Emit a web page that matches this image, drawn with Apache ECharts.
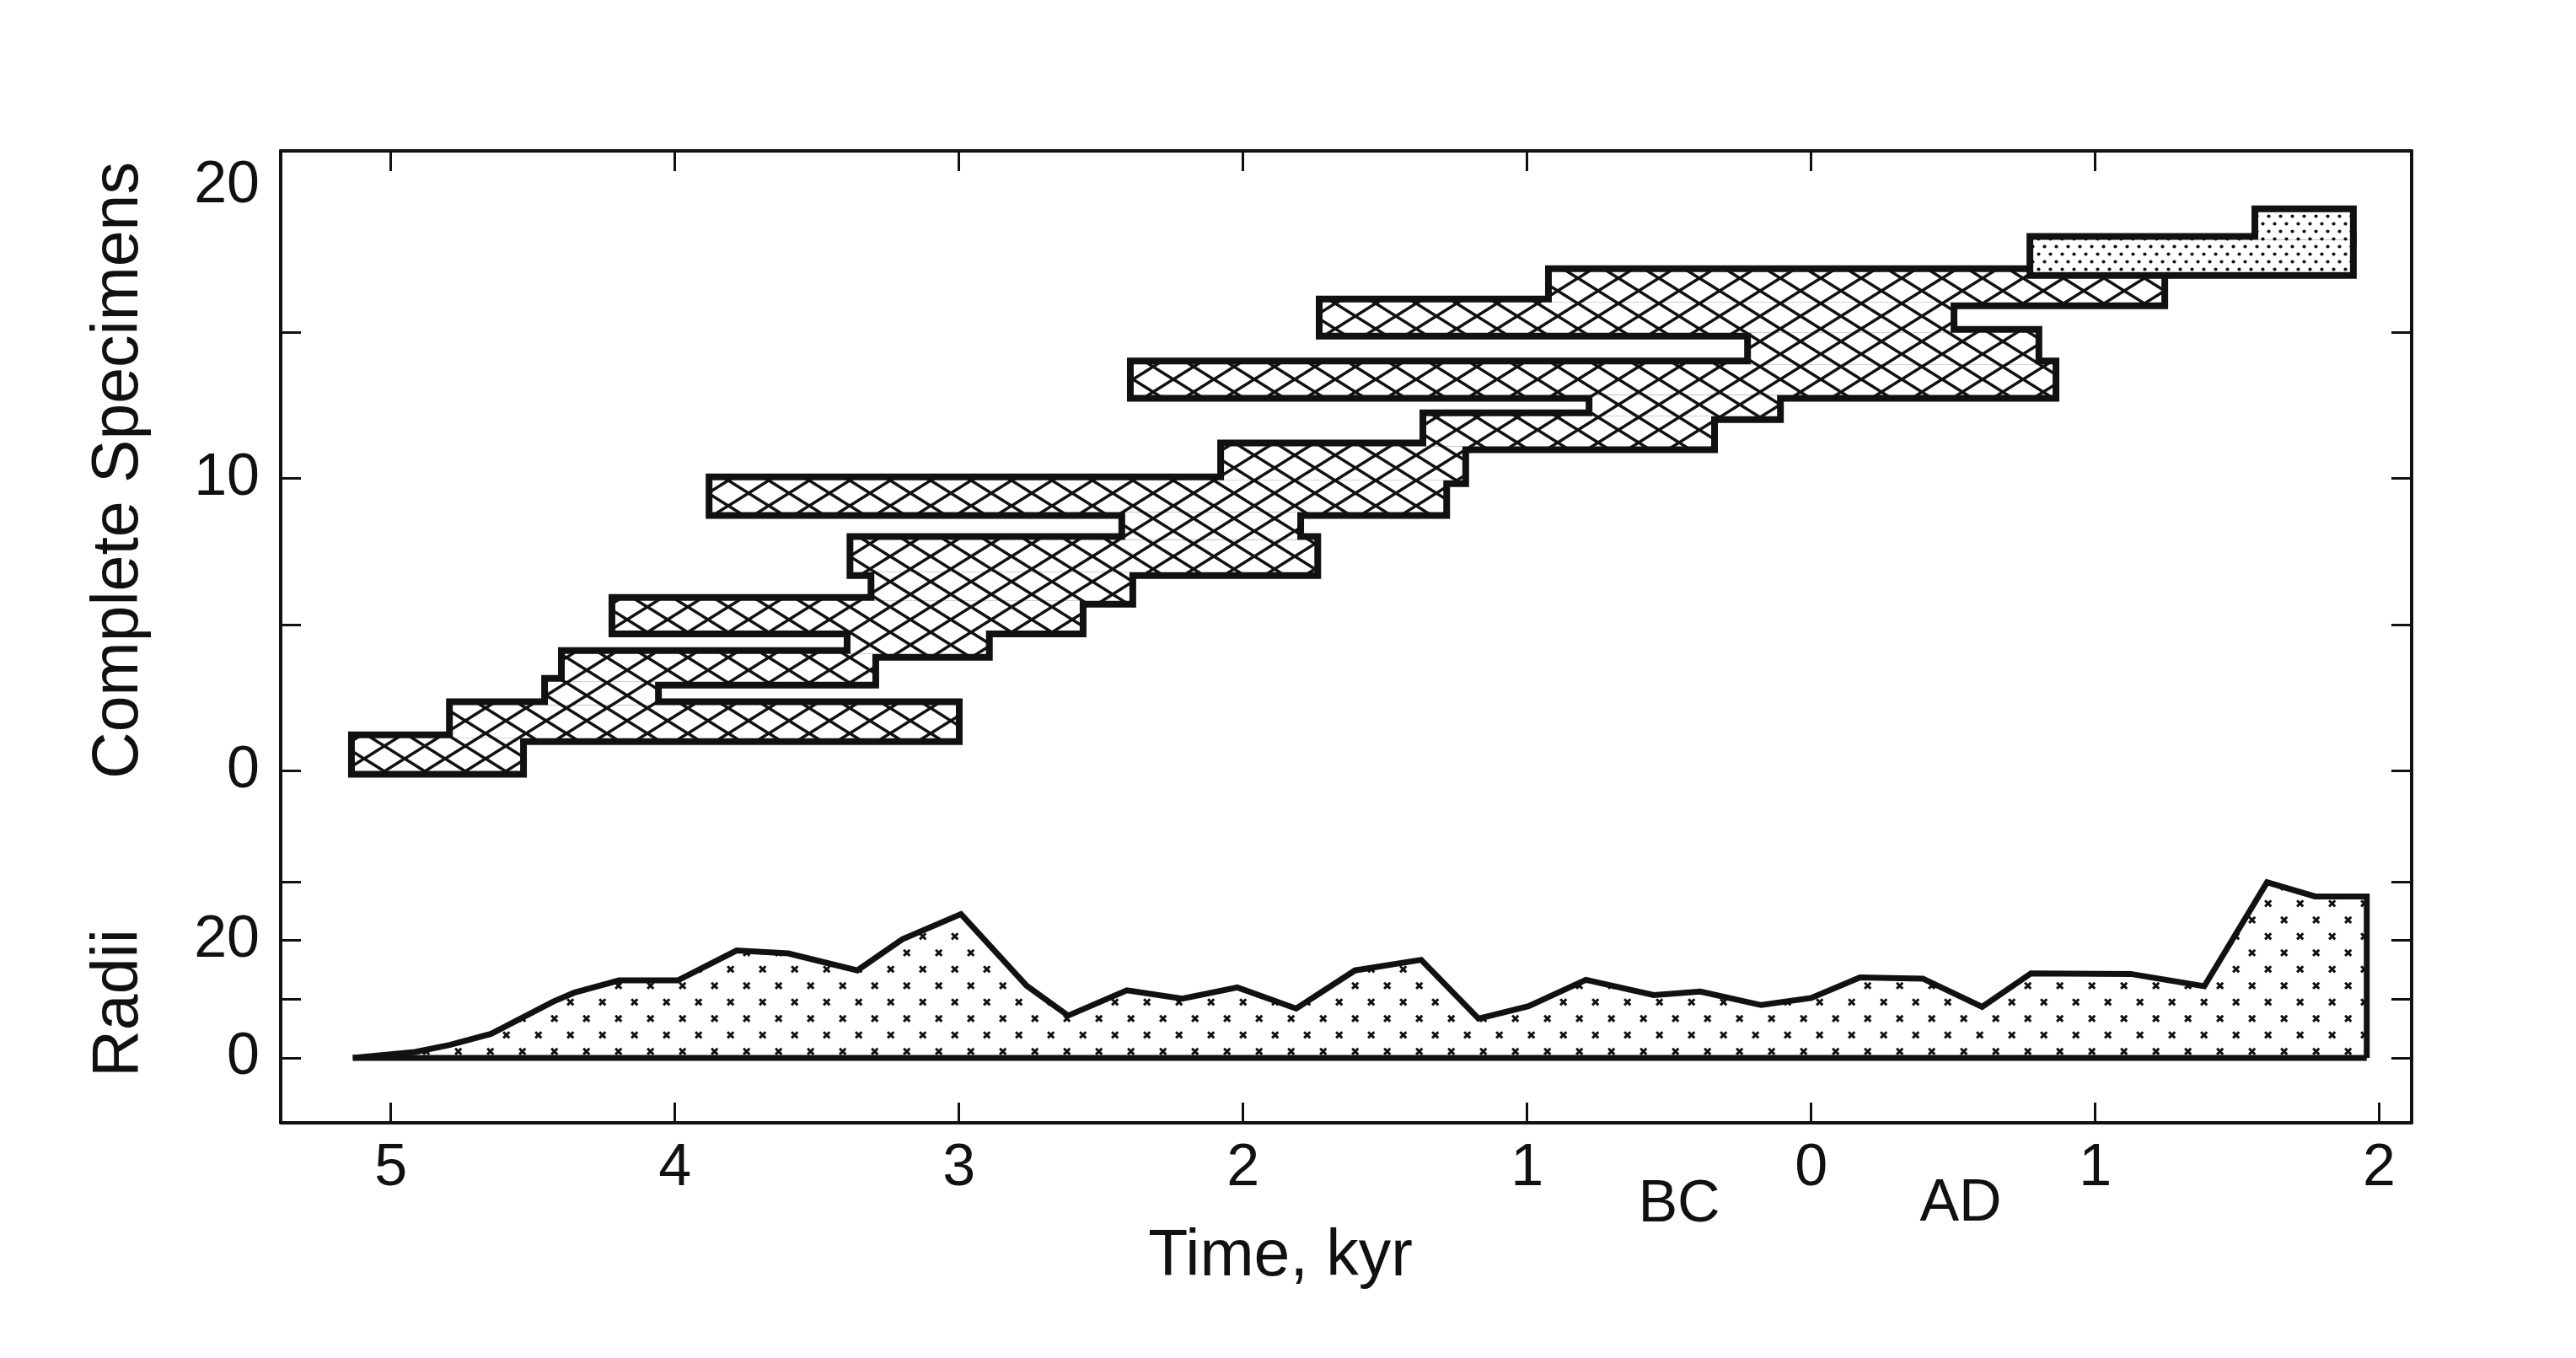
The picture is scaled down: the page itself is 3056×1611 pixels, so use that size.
<!DOCTYPE html>
<html>
<head>
<meta charset="utf-8">
<script src="https://cdn.jsdelivr.net/npm/echarts@6/dist/echarts.min.js"></script>
<style>
html,body{margin:0;padding:0;background:#ffffff;}
#chart{width:3056px;height:1611px;}
</style>
</head>
<body>
<div id="chart"></div>
<script>
// ---------------- data (years: negative = BC, positive = AD) ----------------
// specimen rows: row i spans rowEdges[i] .. rowEdges[i+1] (Complete Specimens)
const rowEdges = [0, 1.12, 2.25, 3.05, 4.0, 4.8, 5.82, 6.8, 7.9, 8.85, 9.94, 11.1, 12.13, 12.86, 13.9, 14.98, 16.02, 17.06, 18.16, 19.1];
// cross-hatched specimens (rows 0..16): dating interval start / end
const hatchStart = [-5127, -4782, -4447, -4388, -3382, -4210, -3298, -3372, -2415, -3868, -2067, -1355, -770, -2385, -212, -1720, -913];
const hatchEnd   = [-4545, -3011, -4070, -3305, -2905, -2575, -2400, -1749, -1809, -1295, -1228, -352, -120, 850, 790, 491, 1233];
// stippled specimens (rows 17, 18)
const stippleStart = [782, 1574];
const stippleEnd   = [1897, 1897];
// Radii curve
const radiiTime  = [-5134, -4915, -4793, -4647, -4428, -4355, -4197, -3990, -3783, -3601, -3358, -3200, -2993, -2762, -2616, -2409, -2214, -2020, -1813, -1606, -1373, -1171, -995, -793, -554, -390, -176, 0, 172, 393, 602, 774, 1125, 1384, 1605, 1774, 1956, 1956];
const radiiValue = [0, 1.0, 2.2, 4.1, 9.6, 11.1, 13.2, 13.2, 18.3, 17.8, 14.9, 20.2, 24.5, 12.3, 7.2, 11.5, 10.1, 12.0, 8.4, 14.9, 16.7, 6.7, 8.8, 13.3, 10.7, 11.3, 9.0, 10.2, 13.7, 13.5, 8.7, 14.4, 14.3, 12.2, 29.9, 27.5, 27.5, 0];
// ticks / labels
const xTickValues = [-5000, -4000, -3000, -2000, -1000, 0, 1000, 2000];
const xTopTickValues = [-5000, -4000, -3000, -2000, -1000, 0, 1000];
const specTicks = [0, 5, 10, 15];
const specLabels = [0, 10, 20];
const radiiTicks = [0, 10, 20, 30];
const radiiLabels = [0, 20];

// ---------------- fill patterns ----------------
const INK = '#111111';
function makeTile(w, h, draw) {
  const c = document.createElement('canvas');
  c.width = w; c.height = h;
  const ctx = c.getContext('2d');
  ctx.fillStyle = '#ffffff';
  ctx.fillRect(0, 0, w, h);
  draw(ctx, w, h);
  return { image: c, repeat: 'repeat' };
}
const hatchPattern = makeTile(48, 30, function (ctx, w, h) {
  ctx.strokeStyle = INK; ctx.lineWidth = 3.6;
  for (let dx = -1; dx <= 1; dx++) {
    for (let dy = -1; dy <= 1; dy++) {
      ctx.beginPath();
      ctx.moveTo(dx * w, dy * h); ctx.lineTo(dx * w + w, dy * h + h);
      ctx.moveTo(dx * w + w, dy * h); ctx.lineTo(dx * w, dy * h + h);
      ctx.stroke();
    }
  }
});
const stipplePattern = makeTile(14, 18, function (ctx) {
  ctx.fillStyle = INK;
  [[3.5, 4.5], [10.5, 13.5]].forEach(function (p) {
    ctx.beginPath(); ctx.arc(p[0], p[1], 2.1, 0, Math.PI * 2); ctx.fill();
  });
});
const crossPattern = makeTile(38, 39, function (ctx, w, h) {
  ctx.strokeStyle = INK; ctx.lineWidth = 3;
  const s = 3.6;
  [[11.7, 38.3], [30.7, 18.8]].forEach(function (p) {
    for (let dx = -1; dx <= 1; dx++) {
      for (let dy = -1; dy <= 1; dy++) {
        const x = p[0] + dx * w, y = p[1] + dy * h;
        ctx.beginPath();
        ctx.moveTo(x - s, y - s); ctx.lineTo(x + s, y + s);
        ctx.moveTo(x + s, y - s); ctx.lineTo(x - s, y + s);
        ctx.stroke();
      }
    }
  });
});

// ---------------- series data ----------------
const hatchData = hatchStart.map(function (s, i) { return [s, hatchEnd[i], rowEdges[i], rowEdges[i + 1]]; });
const stippleData = stippleStart.map(function (s, j) {
  const r = hatchStart.length + j;
  return [s, stippleEnd[j], rowEdges[r], rowEdges[r + 1]];
});
const radiiData = radiiTime.map(function (t, i) { return [t, radiiValue[i]]; });
const baseData = [[radiiTime[0], 0], [radiiTime[radiiTime.length - 1], 0]];

function rectRenderer(pattern, withStroke) {
  return function (params, api) {
    const p0 = api.coord([api.value(0), api.value(3)]);
    const p1 = api.coord([api.value(1), api.value(2)]);
    const style = { fill: pattern };
    if (withStroke) { style.stroke = INK; style.lineWidth = 16; style.lineJoin = 'miter'; }
    else { style.stroke = null; style.lineWidth = 0; }
    return {
      type: 'rect',
      shape: { x: p0[0], y: p0[1], width: p1[0] - p0[0], height: p1[1] - p0[1] },
      style: style
    };
  };
}

const FONT = '"Liberation Sans", Arial, Helvetica, sans-serif';
const XMIN = -5388, XMAX = 2114;

const axisLineStyle = { show: true, onZero: false, lineStyle: { color: INK, width: 4 } };
function tickStyle(values) {
  return { show: true, inside: true, length: 24, customValues: values, lineStyle: { color: INK, width: 3 } };
}

const option = {
  animation: false,
  backgroundColor: '#ffffff',
  grid: [
    { left: 333, right: 195, top: 179, height: 805, containLabel: false, outerBoundsMode: 'none' },
    { left: 333, right: 195, top: 984, height: 348, containLabel: false, outerBoundsMode: 'none' }
  ],
  xAxis: [
    {
      gridIndex: 0, type: 'value', position: 'top', min: XMIN, max: XMAX,
      axisLine: axisLineStyle, axisTick: tickStyle(xTopTickValues),
      axisLabel: { show: false }, splitLine: { show: false }
    },
    {
      gridIndex: 1, type: 'value', position: 'bottom', min: XMIN, max: XMAX,
      axisLine: axisLineStyle, axisTick: tickStyle(xTickValues),
      axisLabel: {
        show: true, customValues: xTickValues, margin: 20, color: INK,
        fontSize: 70, fontFamily: FONT,
        formatter: function (v) { return String(Math.abs(v) / 1000); }
      },
      splitLine: { show: false }
    }
  ],
  yAxis: [
    {
      gridIndex: 0, type: 'value', position: 'left', min: -2, max: 21.2,
      axisLine: axisLineStyle, axisTick: tickStyle(specTicks),
      axisLabel: { show: true, customValues: specLabels, margin: 25, color: INK, fontSize: 70, fontFamily: FONT },
      splitLine: { show: false }
    },
    {
      gridIndex: 0, type: 'value', position: 'right', min: -2, max: 21.2,
      axisLine: axisLineStyle, axisTick: tickStyle(specTicks),
      axisLabel: { show: false }, splitLine: { show: false }
    },
    {
      gridIndex: 1, type: 'value', position: 'left', min: -11.05, max: 38.9,
      axisLine: axisLineStyle, axisTick: tickStyle(radiiTicks),
      axisLabel: { show: true, customValues: radiiLabels, margin: 25, color: INK, fontSize: 70, fontFamily: FONT },
      splitLine: { show: false }
    },
    {
      gridIndex: 1, type: 'value', position: 'right', min: -11.05, max: 38.9,
      axisLine: axisLineStyle, axisTick: tickStyle(radiiTicks),
      axisLabel: { show: false }, splitLine: { show: false }
    }
  ],
  series: [
    {
      type: 'custom', name: 'hatched outline', xAxisIndex: 0, yAxisIndex: 0, z: 2,
      renderItem: rectRenderer(hatchPattern, true), encode: { x: [0, 1], y: [2, 3] }, data: hatchData
    },
    {
      type: 'custom', name: 'hatched fill', xAxisIndex: 0, yAxisIndex: 0, z: 3,
      renderItem: rectRenderer(hatchPattern, false), encode: { x: [0, 1], y: [2, 3] }, data: hatchData
    },
    {
      type: 'custom', name: 'stippled outline', xAxisIndex: 0, yAxisIndex: 0, z: 4,
      renderItem: rectRenderer(stipplePattern, true), encode: { x: [0, 1], y: [2, 3] }, data: stippleData
    },
    {
      type: 'custom', name: 'stippled fill', xAxisIndex: 0, yAxisIndex: 0, z: 5,
      renderItem: rectRenderer(stipplePattern, false), encode: { x: [0, 1], y: [2, 3] }, data: stippleData
    },
    {
      type: 'line', name: 'Radii', xAxisIndex: 1, yAxisIndex: 2, z: 3,
      data: radiiData, symbol: 'none', smooth: false,
      lineStyle: { color: INK, width: 7, join: 'miter' },
      areaStyle: { color: crossPattern, opacity: 1 }
    },
    {
      type: 'line', name: 'baseline', xAxisIndex: 1, yAxisIndex: 2, z: 4,
      data: baseData, symbol: 'none',
      lineStyle: { color: INK, width: 7 }
    }
  ],
  graphic: [
    {
      type: 'text', x: 142, y: 558, rotation: Math.PI / 2,
      style: { text: 'Complete Specimens', fill: INK, fontSize: 77, fontFamily: FONT,
        align: 'center', verticalAlign: 'middle', textAlign: 'center', textVerticalAlign: 'middle' }
    },
    {
      type: 'text', x: 142, y: 1190, rotation: Math.PI / 2,
      style: { text: 'Radii', fill: INK, fontSize: 77, fontFamily: FONT,
        align: 'center', verticalAlign: 'middle', textAlign: 'center', textVerticalAlign: 'middle' }
    },
    {
      type: 'text', x: 1519, y: 1492,
      style: { text: 'Time, kyr', fill: INK, fontSize: 77, fontFamily: FONT,
        align: 'center', verticalAlign: 'middle', textAlign: 'center', textVerticalAlign: 'middle' }
    },
    {
      type: 'text', x: 1992, y: 1430,
      style: { text: 'BC', fill: INK, fontSize: 70, fontFamily: FONT,
        align: 'center', verticalAlign: 'middle', textAlign: 'center', textVerticalAlign: 'middle' }
    },
    {
      type: 'text', x: 2326, y: 1429,
      style: { text: 'AD', fill: INK, fontSize: 70, fontFamily: FONT,
        align: 'center', verticalAlign: 'middle', textAlign: 'center', textVerticalAlign: 'middle' }
    }
  ]
};

const chart = echarts.init(document.getElementById('chart'), null, { renderer: 'canvas', devicePixelRatio: 1 });
chart.setOption(option);
</script>
</body>
</html>
